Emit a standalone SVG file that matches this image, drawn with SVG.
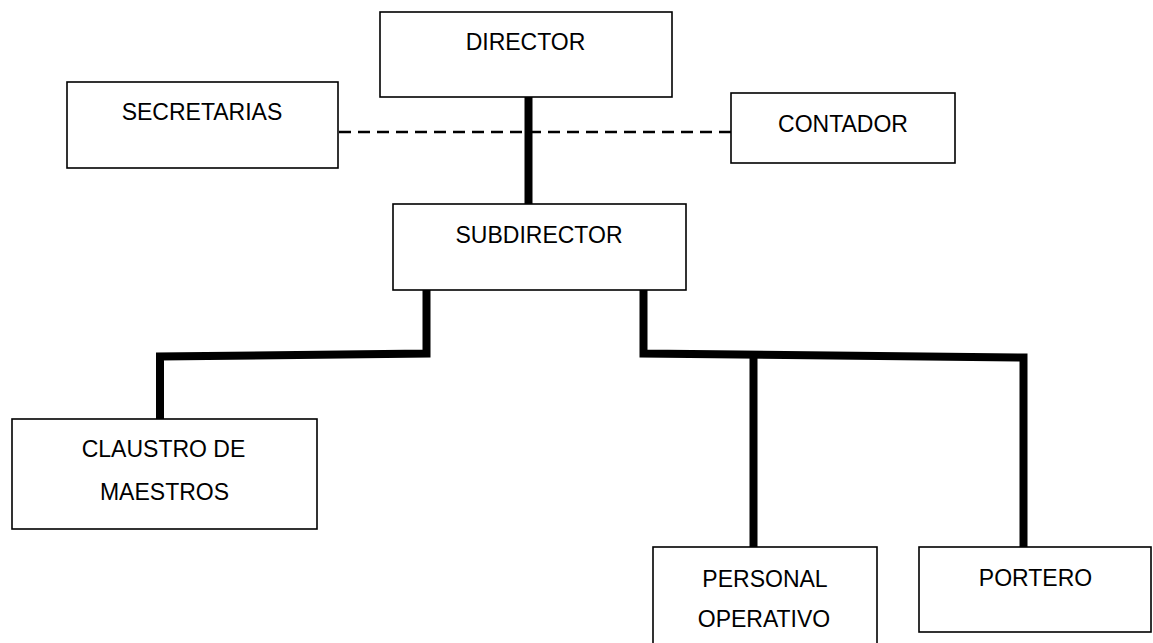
<svg xmlns="http://www.w3.org/2000/svg" width="1153" height="643" viewBox="0 0 1153 643">
  <style>
    .box { fill: #ffffff; stroke: #000000; stroke-width: 1.6; }
    .lbl { font-family: "Liberation Sans", Arial, sans-serif; font-size: 23px; fill: #000000; text-anchor: middle; }
    .thick { fill: none; stroke: #000000; stroke-width: 8; stroke-linejoin: miter; }
    .dash { fill: none; stroke: #000000; stroke-width: 2.5; stroke-dasharray: 12 7; }
  </style>
  <rect width="1153" height="643" fill="#ffffff"/>

  <!-- connectors -->
  <g id="connectors">
    <line class="dash" x1="339" y1="132" x2="731" y2="132"/>
    <line class="thick" x1="528.5" y1="97" x2="528.5" y2="204"/>
    <polyline class="thick" points="426.5,290 426.5,353.5 160,356.5 160,419"/>
    <polyline class="thick" points="643.5,290 643.5,353.5 1023.5,357.5 1023.5,547"/>
    <line class="thick" x1="753.5" y1="355" x2="753.5" y2="547"/>
  </g>

  <!-- nodes -->
  <g id="director">
    <rect class="box" x="380" y="12" width="292" height="85"/>
    <text class="lbl" x="525.5" y="50">DIRECTOR</text>
  </g>
  <g id="secretarias">
    <rect class="box" x="67" y="82" width="271" height="86"/>
    <text class="lbl" x="202" y="120">SECRETARIAS</text>
  </g>
  <g id="contador">
    <rect class="box" x="731" y="93" width="224" height="70"/>
    <text class="lbl" x="843" y="132">CONTADOR</text>
  </g>
  <g id="subdirector">
    <rect class="box" x="393" y="204" width="293" height="86"/>
    <text class="lbl" x="539" y="243">SUBDIRECTOR</text>
  </g>
  <g id="claustro">
    <rect class="box" x="12" y="419" width="305" height="110"/>
    <text class="lbl" x="163.5" y="457">CLAUSTRO DE</text>
    <text class="lbl" x="164.5" y="500">MAESTROS</text>
  </g>
  <g id="personal">
    <rect class="box" x="653" y="547" width="224" height="110"/>
    <text class="lbl" x="765" y="587">PERSONAL</text>
    <text class="lbl" x="764" y="627">OPERATIVO</text>
  </g>
  <g id="portero">
    <rect class="box" x="919" y="547" width="232" height="85"/>
    <text class="lbl" x="1035.5" y="586">PORTERO</text>
  </g>
</svg>
